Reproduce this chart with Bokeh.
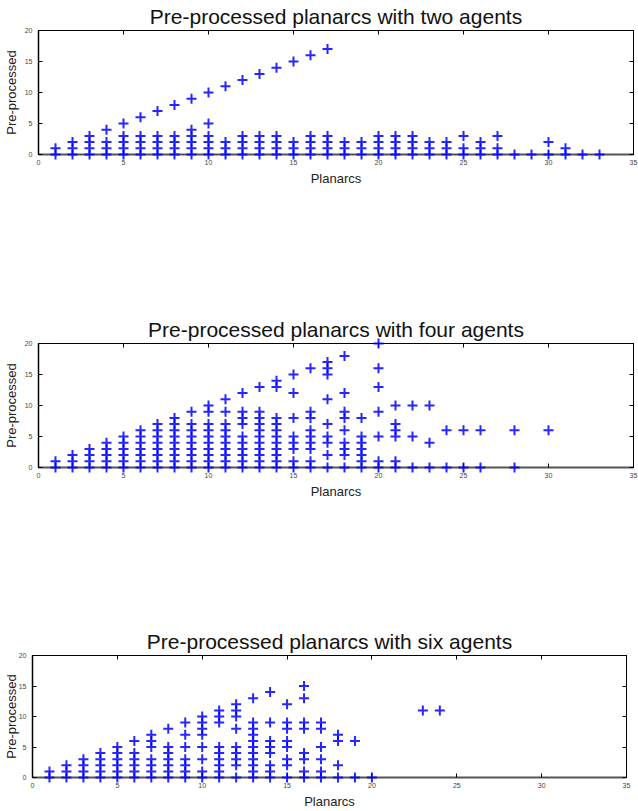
from bokeh.plotting import figure
from bokeh.models import LinearAxis, FixedTicker, Range1d, ColumnDataSource
from bokeh.embed import file_html
from bokeh.resources import INLINE

# ---------------- data ----------------
titles = ["Pre-processed planarcs with two agents",
          "Pre-processed planarcs with four agents",
          "Pre-processed planarcs with six agents"]
x_label = "Planarcs"
y_label = "Pre-processed"
x_ticks = [0, 5, 10, 15, 20, 25, 30, 35]
y_ticks = [0, 5, 10, 15, 20]

# two agents: planarcs value -> list of pre-processed values observed
two_cols = [1, 2, 3, 4, 5, 6, 7, 8, 9, 10, 11, 12, 13, 14, 15, 16, 17,
            18, 19, 20, 21, 22, 23, 24, 25, 26, 27, 28, 29, 30, 31, 32, 33]
two_vals = [[0, 1], [0, 1, 2], [0, 1, 2, 3], [0, 1, 2, 4], [0, 1, 2, 3, 5],
            [0, 1, 2, 3, 6], [0, 1, 2, 3, 7], [0, 1, 2, 3, 8], [0, 1, 2, 3, 4, 9],
            [0, 1, 2, 3, 5, 10], [0, 1, 2, 11], [0, 1, 2, 3, 12], [0, 1, 2, 3, 13],
            [0, 1, 2, 3, 14], [0, 1, 2, 15], [0, 1, 2, 3, 16], [0, 1, 2, 3, 17],
            [0, 1, 2], [0, 1, 2], [0, 1, 2, 3], [0, 1, 2, 3], [0, 1, 2, 3],
            [0, 1, 2], [0, 1, 2], [0, 1, 3], [0, 1, 2], [0, 1, 3],
            [0], [0], [0, 2], [0, 1], [0], [0]]

# four agents
four_cols = [1, 2, 3, 4, 5, 6, 7, 8, 9, 10, 11, 12, 13, 14, 15, 16, 17, 18,
             19, 20, 21, 22, 23, 24, 25, 26, 28, 30]
four_vals = [[0, 1], [0, 1, 2], [0, 1, 2, 3], [0, 1, 2, 3, 4], [0, 1, 2, 3, 4, 5],
             [0, 1, 2, 3, 4, 5, 6], [0, 1, 2, 3, 4, 5, 6, 7],
             [0, 1, 2, 3, 4, 5, 6, 7, 8],
             [0, 1, 2, 3, 4, 5, 6, 7, 9],
             [0, 1, 2, 3, 4, 5, 6, 7, 9, 10],
             [0, 1, 2, 3, 4, 5, 6, 7, 9, 11],
             [0, 1, 2, 3, 4, 5, 7, 8, 9, 12],
             [0, 1, 2, 3, 4, 5, 6, 7, 8, 9, 13],
             [0, 1, 2, 3, 4, 5, 6, 7, 8, 13, 14],
             [0, 1, 3, 4, 5, 8, 12, 15],
             [0, 1, 3, 4, 5, 6, 8, 9, 16],
             [0, 2, 4, 5, 7, 11, 15, 16, 17],
             [0, 2, 3, 4, 6, 8, 9, 12, 18],
             [0, 1, 2, 3, 4, 5, 8],
             [0, 1, 5, 9, 13, 16, 20],
             [0, 1, 5, 6, 7, 10],
             [0, 5, 10], [0, 4, 10], [0, 6], [0, 6], [0, 6], [0, 6], [6]]

# six agents
six_cols = [1, 2, 3, 4, 5, 6, 7, 8, 9, 10, 11, 12, 13, 14, 15, 16, 17, 18,
            19, 20, 23, 24]
six_vals = [[0, 1], [0, 1, 2], [0, 1, 2, 3], [0, 1, 2, 3, 4], [0, 1, 2, 3, 4, 5],
            [0, 1, 2, 3, 4, 6], [0, 1, 2, 3, 5, 6, 7], [0, 1, 2, 3, 4, 5, 8],
            [0, 1, 2, 3, 5, 7, 9], [0, 1, 3, 5, 7, 8, 9, 10],
            [0, 1, 2, 3, 4, 5, 9, 10, 11], [0, 2, 3, 4, 5, 8, 10, 11, 12],
            [0, 1, 2, 3, 4, 5, 6, 7, 8, 9, 13], [0, 1, 2, 4, 5, 6, 9, 14],
            [0, 2, 3, 5, 6, 8, 9, 12], [0, 1, 3, 4, 8, 9, 13, 15],
            [0, 1, 3, 5, 8, 9], [0, 2, 6, 7], [0, 6], [0], [11], [11]]

FONT = "Liberation Sans"


def flatten(cols, vals):
    xs, ys = [], []
    for c, vs in zip(cols, vals):
        for v in vs:
            xs.append(c)
            ys.append(v)
    return xs, ys


def mirror_axis(ticks):
    return LinearAxis(ticker=FixedTicker(ticks=ticks),
                      major_label_text_font_size="1px",
                      major_label_text_color=None,
                      major_label_standoff=0,
                      major_tick_in=4, major_tick_out=0,
                      minor_tick_in=0, minor_tick_out=0,
                      axis_line_color="black")


def make_panel(title, cols, vals, height, left, right, top,
               ylab_standoff, frame_h=125):
    p = figure(width=638, height=height,
               x_range=Range1d(0, 35), y_range=Range1d(0, 20),
               output_backend="svg", toolbar_location=None,
               min_border_left=left, min_border_right=right,
               min_border_top=top, min_border_bottom=height - top - frame_h,
               background_fill_color="white", border_fill_color="white")
    p.title.text = title
    p.title.text_font = FONT
    p.title.text_font_size = "21px"
    p.title.text_font_style = "normal"
    p.title.text_color = "#111111"
    p.title.text_line_height = 1.0
    p.title.align = "center"
    p.title.standoff = 5

    p.xgrid.visible = False
    p.ygrid.visible = False
    p.outline_line_color = "black"
    p.outline_line_width = 1

    for ax, ticks in ((p.xaxis[0], x_ticks), (p.yaxis[0], y_ticks)):
        ax.ticker = FixedTicker(ticks=ticks)
        ax.major_tick_in = 4
        ax.major_tick_out = 0
        ax.minor_tick_in = 0
        ax.minor_tick_out = 0
        ax.major_tick_line_color = "black"
        ax.major_label_text_font = FONT
        ax.major_label_text_font_size = "7px"
        ax.major_label_text_color = "#444444"
        ax.axis_label_text_font = FONT
        ax.axis_label_text_font_size = "13px"
        ax.axis_label_text_font_style = "normal"
        ax.axis_label_text_color = "#222222"
    p.xaxis.axis_label = x_label
    p.yaxis.axis_label = y_label
    p.xaxis.major_label_standoff = 5
    p.xaxis.axis_label_standoff = 3
    p.yaxis.major_label_standoff = 6
    p.yaxis.axis_label_standoff = ylab_standoff
    p.xaxis.axis_line_color = "#555555"
    p.xaxis.axis_line_width = 2
    p.yaxis.axis_line_color = "black"
    p.yaxis.axis_line_width = 1.5

    p.add_layout(mirror_axis(x_ticks), "above")
    p.add_layout(mirror_axis(y_ticks), "right")

    xs, ys = flatten(cols, vals)
    src = ColumnDataSource(dict(x=xs, y=ys))
    p.scatter("x", "y", source=src, marker="cross", size=10,
              line_color="#0000ff", line_width=2, line_alpha=0.85,
              level="overlay")
    return p


p1 = make_panel(titles[0], two_cols, two_vals, 313, 38, 5, 29, 3)
p2 = make_panel(titles[1], four_cols, four_vals, 312, 38, 5, 29, 3)
p3 = make_panel(titles[2], six_cols, six_vals, 186, 32, 12, 29, -3)

# three independent roots, stacked vertically on the page
open("out.html", "w").write(file_html((p1, p2, p3), INLINE))
